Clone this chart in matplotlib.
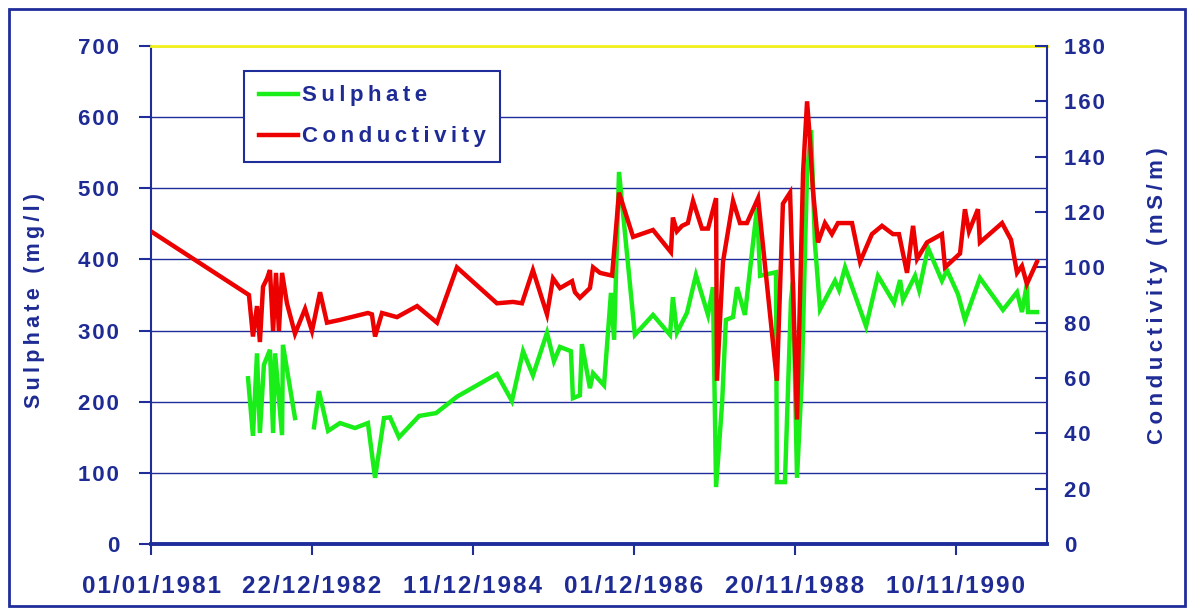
import matplotlib
matplotlib.use('Agg')
import numpy as np
import pandas as pd
import matplotlib.pyplot as plt
from matplotlib.patches import Rectangle

# sampling day, counted from 01/01/1981
sulphate_day = [434, 456, 474, 487, 505, 532, 546, 555, 586, 590, 644, 690,
                729, 751, 792, 845, 912, 970, 1002, 1042, 1069, 1109, 1199,
                1275, 1368, 1547, 1614, 1664, 1708, 1771, 1802, 1829, 1878,
                1887, 1918, 1927, 1963, 1977, 2026, 2057, 2071, 2093, 2164,
                2245, 2321, 2334, 2352, 2397, 2437, 2491, 2513, 2527, 2554,
                2571, 2603, 2621, 2656, 2710, 2724, 2795, 2799, 2835, 2862,
                2871, 2889, 2911, 2925, 2934, 2952, 2969, 2992, 3059, 3077,
                3104, 3198, 3251, 3323, 3350, 3363, 3417, 3435, 3475, 3537,
                3560, 3609, 3640, 3707, 3810, 3873, 3895, 3917, 3922, 3962]
sulphate_mgl = [233, 152, 268, 156, 252, 273, 156, 268, 153, 280, 177, np.nan,
                164, 215, 159, 170, 163, 170, 93, 177, 178, 150, 180,
                184, 207, 239, 201, 271, 237, 297, 257, 277, 271,
                205, 209, 281, 219, 240, 223, 353, 287, 523, 294,
                322, 294, 347, 297, 325, 378, 322, 361, 80, 198,
                315, 319, 361, 322, 472, 377, 382, 87, 87, 343,
                368, 93, 235, 417, 521, 582, 423, 330, 370, 357,
                389, 306, 377, 339, 371, 343, 377, 357, 416, 370,
                385, 351, 315, 374, 329, 354, 326, 365, 326, 326]

conductivity_day = [0, 438, 456, 474, 487, 501, 519, 532, 546, 559, 572, 586,
                    608, 644, 689, 720, 756, 787, 845, 970, 988, 1002, 1033,
                    1100, 1190, 1279, 1368, 1547, 1619, 1659, 1708, 1771,
                    1798, 1829, 1883, 1896, 1918, 1963, 1977, 2008, 2062,
                    2093, 2156, 2245, 2325, 2334, 2352, 2375, 2401, 2424,
                    2464, 2491, 2527, 2531, 2558, 2603, 2634, 2665, 2715,
                    2799, 2826, 2858, 2889, 2916, 2934, 2947, 2960, 2983,
                    3014, 3045, 3072, 3135, 3171, 3224, 3269, 3318, 3345,
                    3381, 3408, 3426, 3470, 3537, 3551, 3618, 3640, 3658,
                    3698, 3707, 3806, 3846, 3873, 3895, 3917, 3962]
conductivity_msm = [113, 90, 75, 86, 73, 93, 96, 99, 77, 98, 77, 98,
                    87, 76, 85, 77, 91, 80, 81, 83.5, 83, 75, 83.5,
                    82, 86, 80, 100, 87, 87.5, 87, 99, 83,
                    96, 92.5, 95, 91, 89, 92.5, 100, 98, 97,
                    127, 111, 113.5, 105.5, 118, 113, 115, 116, 124,
                    114, 114, 125, 59, 102, 124, 116, 116, 125,
                    59, 123, 127, 45, 134, 160, 146, 128, 109,
                    116, 112, 116, 116, 102, 112, 115, 112, 112,
                    98, 115, 103, 109, 112, 100, 105, 121, 113,
                    121, 109, 116, 110, 98, 100.5, 94, 102]

date_ticks = ['01/01/1981', '22/12/1982', '11/12/1984', '01/12/1986',
              '20/11/1988', '10/11/1990']
sulphate_ticks = [0, 100, 200, 300, 400, 500, 600, 700]
conductivity_ticks = [0, 20, 40, 60, 80, 100, 120, 140, 160, 180]

NAVY = '#1f2d9a'
TEXT = '#1e2b94'
GREEN = '#19ee19'
RED = '#ec0000'
BOLD = ['Liberation Sans', 'DejaVu Sans']


def spaced(s, sep='\u2009'):
    return sep.join(s)


start = pd.Timestamp('1981-01-01')
s_dates = start + pd.to_timedelta(sulphate_day, unit='D')
c_dates = start + pd.to_timedelta(conductivity_day, unit='D')
tick_dates = pd.to_datetime(date_ticks, dayfirst=True)

fig = plt.figure(figsize=(11.95, 6.16), dpi=100)
ax = fig.add_axes([151 / 1195, 1 - 544 / 616, (1047 - 151) / 1195, (544 - 46) / 616])
ax2 = ax.twinx()

l1, = ax.plot(s_dates, sulphate_mgl, color=GREEN, lw=3.2, solid_joinstyle='miter')
l2, = ax2.plot(c_dates, conductivity_msm, color=RED, lw=3.2, solid_joinstyle='miter')

ax.set_xlim(start, start + pd.Timedelta(days=4007))
ax.set_ylim(0, 700)
ax2.set_ylim(0, 180)

ax.set_yticks(sulphate_ticks)
ax.set_yticklabels([spaced(str(v), '\u200a') for v in sulphate_ticks],
                   fontsize=16, fontweight='bold', color=TEXT, family=BOLD)
ax2.set_yticks(conductivity_ticks)
ax2.set_yticklabels([spaced(str(v), '\u200a') for v in conductivity_ticks],
                    fontsize=16, fontweight='bold', color=TEXT, family=BOLD)
ax.set_xticks(tick_dates)
ax.set_xticklabels([spaced(t, '\u200a') for t in date_ticks], fontsize=17.5,
                   fontweight='bold', color=TEXT, family=BOLD)

ax.grid(axis='y', color=NAVY, lw=1.0)
ax.set_axisbelow(True)

ax.tick_params(axis='y', direction='out', length=9, width=1.5, color=NAVY, pad=14)
ax.tick_params(axis='x', direction='out', length=8, width=1.5, color=NAVY, pad=14)
ax2.tick_params(axis='y', direction='in', length=9, width=1.5, color=NAVY, pad=12)

for side in ['left', 'bottom']:
    ax.spines[side].set_color(NAVY)
ax.spines['left'].set_linewidth(1.5)
ax.spines['bottom'].set_linewidth(2.8)
ax.spines['top'].set_color('#f2f21a')
ax.spines['top'].set_linewidth(2)
ax.spines['right'].set_visible(False)
for side in ['left', 'bottom', 'top']:
    ax2.spines[side].set_visible(False)
ax2.spines['right'].set_color(NAVY)
ax2.spines['right'].set_linewidth(1.5)

leg = ax2.legend([l1, l2], [spaced('Sulphate'), spaced('Conductivity')],
                 loc='upper left', bbox_to_anchor=(0.104, 0.95),
                 borderaxespad=0, fancybox=False, framealpha=1,
                 handlelength=1.75, handletextpad=0.2, borderpad=0.65,
                 labelspacing=0.9,
                 prop={'family': BOLD, 'weight': 'bold', 'size': 16})
leg.get_frame().set_edgecolor(NAVY)
leg.get_frame().set_linewidth(1.5)
for t in leg.get_texts():
    t.set_color(TEXT)

fig.text(35 / 1195, 1 - 300 / 616, spaced('Sulphate (mg/l)'), rotation=90,
         ha='center', va='center', fontsize=15.5, fontweight='bold',
         color=TEXT, family=BOLD)
fig.text(1158 / 1195, 1 - 296 / 616, spaced('Conductivity (mS/m)'), rotation=90,
         ha='center', va='center', fontsize=16, fontweight='bold',
         color=TEXT, family=BOLD)

fig.patches.append(Rectangle((9 / 1195, 10 / 616), 1176 / 1195, 597 / 616,
                             transform=fig.transFigure, fill=False,
                             edgecolor=NAVY, lw=2))

fig.savefig('out.png', dpi=100)
